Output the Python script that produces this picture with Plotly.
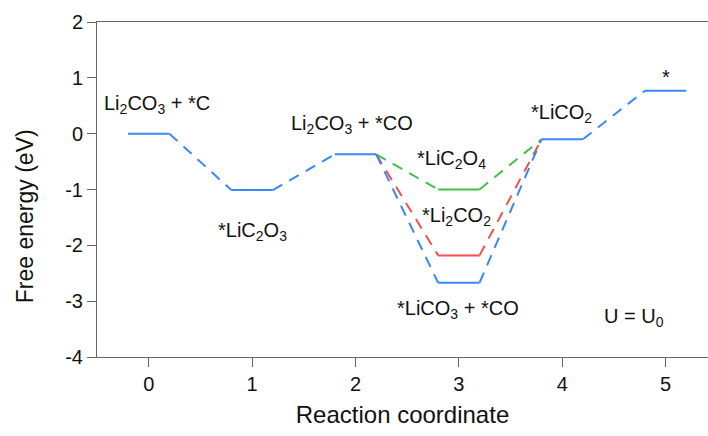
import plotly.graph_objects as go

# Reaction steps and free energies (eV) along the main pathway
steps = [0, 1, 2, 3, 4, 5]
energy_main = [0.0, -1.01, -0.37, -2.67, -0.10, 0.77]

# Alternative intermediates at step 3
alt_step = 3
energy_red = -2.18
energy_green = -1.00

y_ticks = [-4, -3, -2, -1, 0, 1, 2]
y_tick_text = ["-4", "-3", "-2", "-1", "0", "1", "2"]

state_labels = ["Li<sub>2</sub>CO<sub>3</sub> + *C", "*LiC<sub>2</sub>O<sub>3</sub>",
                "Li<sub>2</sub>CO<sub>3</sub> + *CO", "*LiCO<sub>3</sub> + *CO",
                "*LiCO<sub>2</sub>", "*"]
label_x = [-0.45, 1.0, 1.97, 2.99, 3.99, 5.0]
label_y = [0.52, -1.75, 0.16, -3.15, 0.37, 1.02]
label_anchor = ["left", "center", "center", "center", "center", "center"]

alt_labels = ["*LiC<sub>2</sub>O<sub>4</sub>", "*Li<sub>2</sub>CO<sub>2</sub>"]
alt_label_x = [2.93, 2.98]
alt_label_y = [-0.47, -1.48]

BLUE = "#3a87f5"
RED = "#f24f4f"
GREEN = "#45bf45"
HALF = 0.2
DASH = "11px,8px"
FONT = "Liberation Sans, Arial, sans-serif"
TEXT = "#111"

fig = go.Figure()


def level(x, y, color):
    fig.add_trace(go.Scatter(x=[x - HALF, x + HALF], y=[y, y], mode="lines",
                             line=dict(color=color, width=2), showlegend=False,
                             hoverinfo="skip"))


def link(x0, y0, x1, y1, color):
    fig.add_trace(go.Scatter(x=[x0 + HALF, x1 - HALF], y=[y0, y1], mode="lines",
                             line=dict(color=color, width=2, dash=DASH),
                             showlegend=False, hoverinfo="skip"))


# alternative branches through step 3
for e, c in [(energy_green, GREEN), (energy_red, RED)]:
    link(steps[2], energy_main[2], alt_step, e, c)
    level(alt_step, e, c)
    link(alt_step, e, steps[4], energy_main[4], c)

# main pathway
for i, (s, e) in enumerate(zip(steps, energy_main)):
    level(s, e, BLUE)
    if i + 1 < len(steps):
        link(s, e, steps[i + 1], energy_main[i + 1], BLUE)

annotations = []
for t, x, y, a in zip(state_labels, label_x, label_y, label_anchor):
    annotations.append(dict(x=x, y=y, text=t, showarrow=False, xanchor=a,
                            yanchor="middle", font=dict(size=20, color=TEXT)))
for t, x, y in zip(alt_labels, alt_label_x, alt_label_y):
    annotations.append(dict(x=x, y=y, text=t, showarrow=False, xanchor="center",
                            yanchor="middle", font=dict(size=20, color=TEXT)))
annotations.append(dict(x=4.69, y=-3.3, text="U = U<sub>0</sub>", showarrow=False,
                        xanchor="center", yanchor="middle",
                        font=dict(size=20, color=TEXT)))
# y-axis title
annotations.append(dict(xref="paper", yref="paper", x=-0.118, y=0.42,
                        text="Free energy (eV)", textangle=-90, showarrow=False,
                        xanchor="center", yanchor="middle",
                        font=dict(size=23, color=TEXT)))

fig.update_layout(
    width=708, height=436,
    margin=dict(l=97, r=0, t=22, b=79),
    paper_bgcolor="white", plot_bgcolor="white",
    font=dict(family=FONT, size=20, color=TEXT),
    annotations=annotations,
    xaxis=dict(range=[-0.5, 5.41], tickvals=steps, ticks="outside", ticklen=9,
               tickcolor="#666", showline=True, linecolor="#666", linewidth=1,
               mirror=True, showgrid=False, zeroline=False,
               title=dict(text="Reaction coordinate", standoff=12),
               tickfont=dict(size=20)),
    yaxis=dict(range=[-4, 2], tickvals=y_ticks, ticktext=y_tick_text,
               ticks="outside", ticklen=9,
               tickcolor="#666", showline=True, linecolor="#666", linewidth=1,
               showgrid=False, zeroline=False,
               tickfont=dict(size=20)),
)

fig.write_html("out.html")
